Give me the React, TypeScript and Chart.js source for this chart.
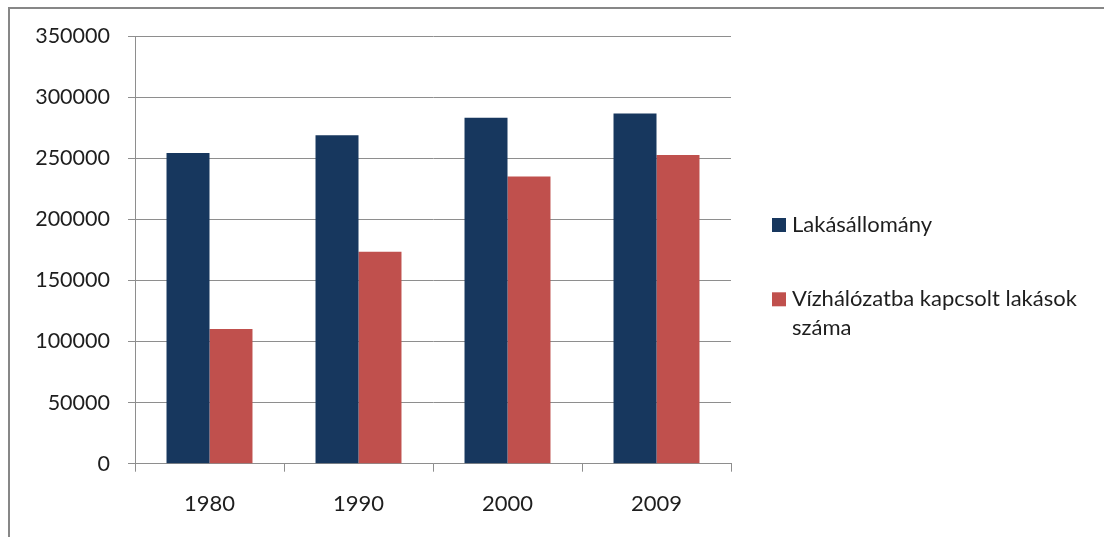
import { useEffect, useRef } from "react";
import { Chart, registerables } from "chart.js";

Chart.register(...registerables);

// Years on the category axis
const years = ["1980", "1990", "2000", "2009"];
// Total dwelling stock
const housingStock = [254300, 268800, 283000, 286500];
// Dwellings connected to the water network
const connectedToWater = [110200, 173400, 235000, 252700];
// Series names shown in the legend
const seriesNames = ["Lakásállomány", "Vízhálózatba kapcsolt lakások száma"];
const seriesColors = ["#17375E", "#C0504D"];
// Value axis range
const yMin = 0;
const yMax = 350000;
const yStep = 50000;

const FONT_FAMILY = "Lato, 'Open Sans', sans-serif";
const TEXT_COLOR = "#1e1e1e";
const GRID_COLOR = "#8e8e8e";

// Legend drawn to the right of the plot, wrapping long labels
const sideLegend = {
  id: "sideLegend",
  afterDraw(chart: any) {
    const { ctx, chartArea } = chart;
    const boxX = chartArea.right + 41;
    const boxSize = 14;
    const textX = boxX + 20;
    const maxWidth = chart.width - textX - 8;
    const lineGap = 28.5;
    const itemGap = 74.3;
    ctx.save();
    ctx.font = `22px ${FONT_FAMILY}`;
    ctx.textBaseline = "alphabetic";
    ctx.textAlign = "left";
    let baseline = chartArea.top + 196;
    chart.data.datasets.forEach((ds: any) => {
      const words = String(ds.label).split(" ");
      const lines: string[] = [];
      let cur = "";
      for (const w of words) {
        const next = cur ? cur + " " + w : w;
        if (cur && ctx.measureText(next).width > maxWidth) {
          lines.push(cur);
          cur = w;
        } else {
          cur = next;
        }
      }
      if (cur) lines.push(cur);
      ctx.fillStyle = ds.backgroundColor;
      ctx.fillRect(boxX, baseline - boxSize, boxSize, boxSize);
      ctx.fillStyle = TEXT_COLOR;
      lines.forEach((ln, i) => ctx.fillText(ln, textX, baseline + i * lineGap));
      baseline += itemGap + (lines.length - 1) * lineGap;
    });
    ctx.restore();
  },
};

export default function App() {
  const canvasRef = useRef<HTMLCanvasElement | null>(null);

  useEffect(() => {
    const canvas = canvasRef.current;
    if (!canvas) return;
    const chart = new Chart(canvas, {
      type: "bar",
      data: {
        labels: years,
        datasets: [
          {
            label: seriesNames[0],
            data: housingStock,
            backgroundColor: seriesColors[0],
            borderWidth: 0,
          },
          {
            label: seriesNames[1],
            data: connectedToWater,
            backgroundColor: seriesColors[1],
            borderWidth: 0,
          },
        ],
      },
      options: {
        responsive: false,
        animation: false,
        devicePixelRatio: 1,
        datasets: {
          bar: {
            categoryPercentage: 0.577,
            barPercentage: 1,
          },
        },
        layout: {
          padding: { left: 0, right: 373, top: 36, bottom: 0 },
        },
        plugins: {
          legend: { display: false },
          tooltip: { enabled: false },
          title: { display: false },
        },
        scales: {
          x: {
            type: "category",
            offset: true,
            grid: {
              offset: true,
              drawOnChartArea: false,
              drawTicks: true,
              tickLength: 8,
              color: GRID_COLOR,
            },
            border: { display: true, color: GRID_COLOR },
            ticks: {
              color: TEXT_COLOR,
              font: { family: FONT_FAMILY, size: 22 },
              padding: 19,
              maxRotation: 0,
            },
            afterFit: (scale: any) => {
              scale.height = 73.3;
            },
          },
          y: {
            min: yMin,
            max: yMax,
            grid: {
              color: GRID_COLOR,
              drawTicks: true,
              tickLength: 7,
            },
            border: { display: true, color: GRID_COLOR },
            ticks: {
              stepSize: yStep,
              color: TEXT_COLOR,
              font: { family: FONT_FAMILY, size: 21.5 },
              padding: 18,
              callback: (v: any) => String(v),
            },
            afterFit: (scale: any) => {
              scale.width = 135;
            },
          },
        },
      },
      plugins: [sideLegend],
    });
    return () => chart.destroy();
  }, []);

  return (
    <div
      style={{
        position: "fixed",
        left: 0,
        top: 0,
        width: 1104,
        height: 537,
        background: "#ffffff",
        overflow: "hidden",
      }}
    >
      <canvas
        ref={canvasRef}
        width={1104}
        height={537}
        style={{ position: "absolute", left: 0, top: 0, width: 1104, height: 537 }}
      />
      <div
        style={{
          position: "absolute",
          left: 8,
          top: 7,
          right: 0,
          bottom: 0,
          borderLeft: "2px solid #878787",
          borderTop: "2px solid #878787",
          pointerEvents: "none",
        }}
      />
    </div>
  );
}
